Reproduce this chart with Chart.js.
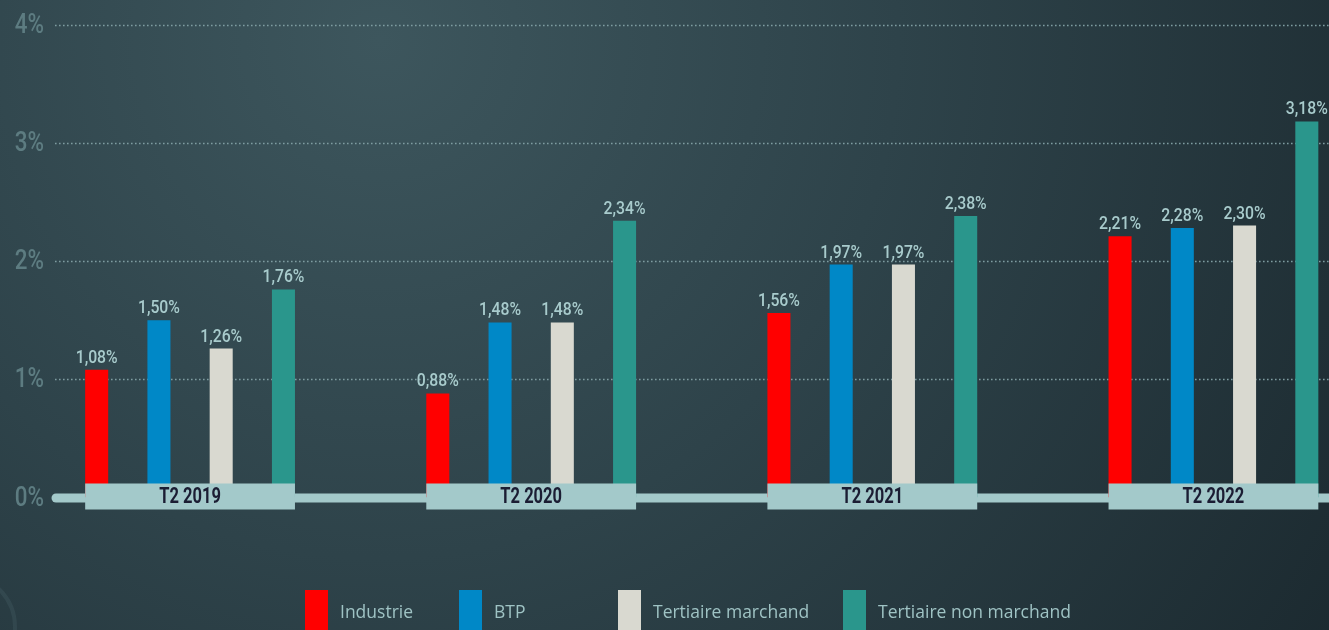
<!DOCTYPE html>
<html><head><meta charset="utf-8">
<script src="https://cdn.jsdelivr.net/npm/chart.js@4"></script>
<style>
html,body{margin:0;padding:0;background:#2c3f46;overflow:hidden;width:1329px;height:630px}
canvas{display:block}
</style></head>
<body>
<canvas id="c" width="1384" height="630"></canvas>
<script>
const categories = ['T2 2019', 'T2 2020', 'T2 2021', 'T2 2022'];
const seriesNames = ['Industrie', 'BTP', 'Tertiaire marchand', 'Tertiaire non marchand'];
const industrie = [1.08, 0.88, 1.56, 2.21];
const btp = [1.50, 1.48, 1.97, 2.28];
const tertiaireMarchand = [1.26, 1.48, 1.97, 2.30];
const tertiaireNonMarchand = [1.76, 2.34, 2.38, 3.18];
const yTicks = [0, 1, 2, 3, 4];
const seriesColors = ['#ff0000', '#0088c7', '#d9d9d0', '#2a968c'];

const FONT = 'Roboto, "Liberation Sans", sans-serif';
const WIDE = '"Open Sans", "Liberation Sans", sans-serif';
const fmt = v => v.toFixed(2).replace('.', ',') + '%';
const VIEW_W = 1329;
const legendX = [305, 459, 618, 843];

function squeezedText(ctx, text, x, y, sx) {
  ctx.save();
  ctx.translate(x, y);
  ctx.scale(sx, 1);
  ctx.fillText(text, 0, 0);
  ctx.restore();
}

const deco = {
  id: 'deco',
  beforeDraw(chart) {
    const ctx = chart.ctx, W = chart.width, H = chart.height;
    ctx.save();
    const g = ctx.createRadialGradient(380, 40, 0, 380, 40, 1150);
    g.addColorStop(0, '#3d565d');
    g.addColorStop(0.45, '#2e434a');
    g.addColorStop(1, '#1b292f');
    ctx.fillStyle = g;
    ctx.fillRect(0, 0, W, H);
    // faint decorative ring bottom-left
    ctx.strokeStyle = 'rgba(170,210,215,0.08)';
    ctx.lineWidth = 4;
    ctx.beginPath(); ctx.arc(-38, 627, 53, 0, Math.PI * 2); ctx.stroke();
    ctx.restore();
  },
  beforeDatasetsDraw(chart) {
    const ctx = chart.ctx, y = chart.scales.y;
    ctx.save();
    ctx.strokeStyle = '#7e9ca0';
    ctx.lineWidth = 1.4;
    ctx.setLineDash([1.6, 2.4]);
    yTicks.forEach(t => {
      if (t === 0) return;
      const py = Math.round(y.getPixelForValue(t)) + 0.5;
      ctx.beginPath(); ctx.moveTo(55, py); ctx.lineTo(VIEW_W, py); ctx.stroke();
    });
    ctx.setLineDash([]);
    const z = y.getPixelForValue(0) + 0.5;
    ctx.strokeStyle = '#a3c9ca';
    ctx.lineWidth = 9;
    ctx.lineCap = 'round';
    ctx.beginPath(); ctx.moveTo(56, z); ctx.lineTo(VIEW_W + 10, z); ctx.stroke();
    ctx.fillStyle = '#5d7c81';
    ctx.font = '500 28px ' + FONT;
    ctx.textAlign = 'right';
    ctx.textBaseline = 'middle';
    yTicks.forEach(t => {
      squeezedText(ctx, t + '%', 44, y.getPixelForValue(t) + 1, 0.8);
    });
    ctx.restore();
  },
  afterDatasetsDraw(chart) {
    const ctx = chart.ctx, y = chart.scales.y;
    const z = y.getPixelForValue(0);
    const first = chart.getDatasetMeta(0).data;
    const last = chart.getDatasetMeta(chart.data.datasets.length - 1).data;
    ctx.save();
    categories.forEach((c, i) => {
      const l = first[i].x - first[i].width / 2;
      const r = last[i].x + last[i].width / 2;
      ctx.fillStyle = '#a3c9ca';
      ctx.fillRect(l, z - 14, r - l, 26);
      ctx.fillStyle = '#1b1d33';
      ctx.font = 'bold 22px ' + FONT;
      ctx.textAlign = 'center';
      ctx.textBaseline = 'middle';
      squeezedText(ctx, c, (l + r) / 2, z, 0.75);
    });
    ctx.fillStyle = '#a8cbcc';
    ctx.font = '500 19px ' + FONT;
    ctx.textAlign = 'center';
    ctx.textBaseline = 'alphabetic';
    chart.data.datasets.forEach((ds, di) => {
      chart.getDatasetMeta(di).data.forEach((bar, i) => {
        squeezedText(ctx, fmt(ds.data[i]), bar.x, bar.y - 7, 0.83);
      });
    });
    ctx.font = '500 17.5px ' + WIDE;
    ctx.textAlign = 'left';
    ctx.textBaseline = 'middle';
    seriesNames.forEach((n, i) => {
      ctx.fillStyle = seriesColors[i];
      ctx.fillRect(legendX[i], 590, 23, 45);
      ctx.fillStyle = '#9fc3c4';
      ctx.fillText(n, legendX[i] + 35, 613);
    });
    ctx.restore();
  }
};

const seriesData = [industrie, btp, tertiaireMarchand, tertiaireNonMarchand];

new Chart(document.getElementById('c'), {
  type: 'bar',
  data: {
    labels: categories,
    datasets: seriesNames.map((n, i) => ({
      label: n,
      data: seriesData[i],
      backgroundColor: seriesColors[i],
      borderWidth: 0,
      barPercentage: 0.37,
      categoryPercentage: 0.73
    }))
  },
  options: {
    responsive: false,
    animation: false,
    devicePixelRatio: 1,
    layout: { padding: { left: 19.5, right: 0, top: 24.5, bottom: 132.5 } },
    scales: {
      x: { display: false, offset: true, grid: { display: false } },
      y: { display: false, min: 0, max: 4 }
    },
    plugins: { legend: { display: false }, tooltip: { enabled: false } }
  },
  plugins: [deco]
});
</script>
</body></html>
